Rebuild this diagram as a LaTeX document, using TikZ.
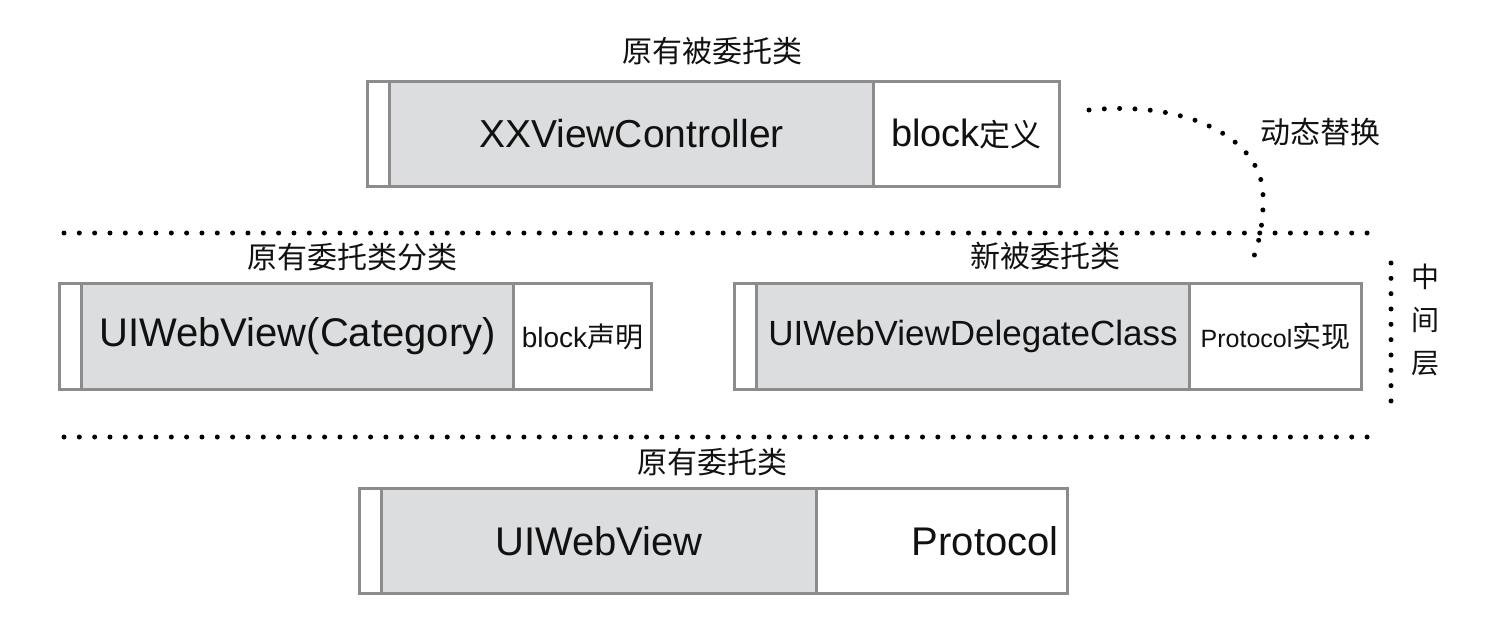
\documentclass[tikz,border=0pt]{standalone}
\usepackage{fontspec}
\setmainfont{Liberation Sans}
\newfontfamily\cjk{Noto Sans CJK SC}
\definecolor{bordergray}{HTML}{8C8C8E}
\definecolor{cellgray}{HTML}{DCDDDF}
\definecolor{ink}{HTML}{111111}
\newcommand{\fs}[1]{\fontsize{#1}{#1}\selectfont}
\tikzset{
  cellbox/.style={draw=bordergray, line width=3pt, inner sep=0pt, anchor=north west, text=ink},
  stripcell/.style={cellbox, fill=white},
  maincell/.style={cellbox, fill=cellgray},
  sidecell/.style={cellbox, fill=white},
  dotline/.style={draw=black, line width=5pt, line cap=round, dash pattern=on 0pt off 15.33pt},
  title/.style={font=\cjk\fs{30}, text=ink}
}
\begin{document}
\begin{tikzpicture}[x=1pt,y=-1pt]
\useasboundingbox (0,0) rectangle (1507,637);

% ---- top box
\node[title] (t1) at (712,51) {原有被委托类};
\node[stripcell, minimum width=22pt, minimum height=105pt] (As) at (366,80) {};
\node[maincell, minimum width=484pt, minimum height=105pt, font=\fs{39}] (Am) at (388,80) {XXViewController};
\node[sidecell, minimum width=186pt, minimum height=105pt] (Ar) at (872,80) {{\fs{38}block}{\cjk\fs{31}定义}};

% ---- dotted separators
\coordinate (h1a) at (64,233); \coordinate (h1b) at (1368,233);
\draw[dotline] (h1a) -- (h1b);
\coordinate (h2a) at (64,437); \coordinate (h2b) at (1368,437);
\draw[dotline] (h2a) -- (h2b);

% ---- left middle box
\node[title] (t2) at (352,257) {原有委托类分类};
\node[stripcell, minimum width=22pt, minimum height=106pt] (Bs) at (58,282) {};
\node[maincell, minimum width=432pt, minimum height=106pt, font=\fs{40}] (Bm) at (80,282) {UIWebView(Category)};
\node[sidecell, minimum width=138pt, minimum height=106pt] (Br) at (512,282) {{\fs{28}block}{\cjk\fs{28}声明}};

% ---- right middle box
\node[title] (t3) at (1045,256) {新被委托类};
\node[stripcell, minimum width=22pt, minimum height=106pt] (Cs) at (733,282) {};
\node[maincell, minimum width=433pt, minimum height=106pt, font=\fs{35}] (Cm) at (755,282) {UIWebViewDelegateClass};
\node[sidecell, minimum width=172pt, minimum height=106pt] (Cr) at (1188,282) {{\fs{25}Protocol}{\cjk\fs{29}实现}};

% ---- bottom box
\node[title] (t4) at (712,462) {原有委托类};
\node[stripcell, minimum width=22pt, minimum height=105pt] (Ds) at (358,487) {};
\node[maincell, minimum width=435pt, minimum height=105pt, font=\fs{40}] (Dm) at (380,487) {UIWebView};
\node[sidecell, minimum width=251pt, minimum height=105pt, text width=233pt, align=right, font=\fs{40}] (Dr) at (815,487) {Protocol};

% ---- middle layer marker
\coordinate (v1) at (1391,263); \coordinate (v2) at (1391,403);
\draw[dotline] (v1) -- (v2);
\node[font=\cjk\fontsize{28}{43}\selectfont, align=center, text=ink] (mid) at (1425,320) {中\\间\\层};

% ---- dynamic replacement curve
\coordinate (cs) at (1089,110);
\coordinate (ce) at (1251,265);
\draw[dotline] (cs) .. controls (1190,100) and (1262,140) .. (1263,195) .. controls (1264,228) and (1257,248) .. (ce);
\node[font=\cjk\fs{30}, text=ink] (dyn) at (1320,132) {动态替换};
\end{tikzpicture}
\end{document}
